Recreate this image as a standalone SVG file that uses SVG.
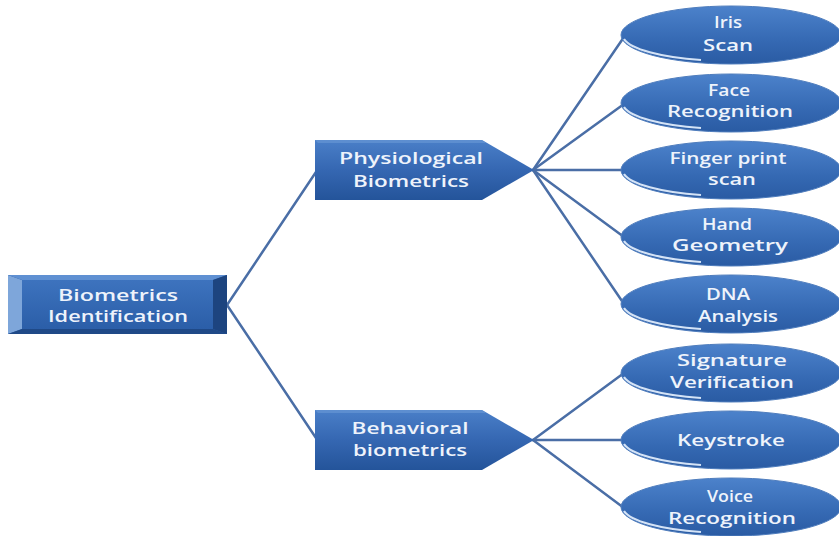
<svg xmlns="http://www.w3.org/2000/svg" xmlns:xlink="http://www.w3.org/1999/xlink" width="839" height="536" viewBox="0 0 839 536">
<style>
.t{font-family:"Open Sans","Liberation Sans",Arial,sans-serif;font-weight:600;font-size:17px;fill:#eef3fb;text-anchor:middle}
.s{font-size:16px}
.c{stroke:#4a6ea6;stroke-width:2.5;fill:none;stroke-linecap:round}
</style>
<defs>
<linearGradient id="gBox" x1="0" y1="0" x2="0" y2="1">
<stop offset="0" stop-color="#4a7fc8"/>
<stop offset="0.5" stop-color="#3567b2"/>
<stop offset="1" stop-color="#24549a"/>
</linearGradient>
<linearGradient id="gFace" x1="0" y1="0" x2="0" y2="1">
<stop offset="0" stop-color="#3d73be"/>
<stop offset="1" stop-color="#2b5ea8"/>
</linearGradient>
<linearGradient id="gEll" x1="0" y1="0" x2="0" y2="1">
<stop offset="0" stop-color="#4c82cb"/>
<stop offset="0.6" stop-color="#3569b3"/>
<stop offset="1" stop-color="#2a5ba3"/>
</linearGradient>
<g id="ell">
<ellipse cx="0" cy="0" rx="110" ry="29" fill="url(#gEll)" stroke="#4f7dbd" stroke-width="1"/>
<path d="M -107 4 A 107 26 0 0 0 -30 25" fill="none" stroke="#d4e3f6" stroke-width="2.2"/>
</g>
</defs>

<g id="connectors">
<line class="c" x1="227" y1="305" x2="316" y2="172"/>
<line class="c" x1="227" y1="305" x2="316" y2="438"/>
<line class="c" x1="533" y1="170" x2="624" y2="37"/>
<line class="c" x1="533" y1="170" x2="624" y2="104"/>
<line class="c" x1="533" y1="170" x2="624" y2="170"/>
<line class="c" x1="533" y1="170" x2="624" y2="237"/>
<line class="c" x1="533" y1="170" x2="624" y2="304"/>
<line class="c" x1="533" y1="440" x2="624" y2="373"/>
<line class="c" x1="533" y1="440" x2="624" y2="440"/>
<line class="c" x1="533" y1="440" x2="624" y2="508"/>
</g>

<g id="root">
<rect x="8" y="275" width="219" height="59" fill="#2b5ca3"/>
<polygon points="8,275 22,280 22,329 8,334" fill="#7ea6da"/>
<polygon points="8,275 227,275 213,280 22,280" fill="#5f90d2"/>
<polygon points="227,275 227,334 213,329 213,280" fill="#1d447f"/>
<polygon points="8,334 22,329 213,329 227,334" fill="#1f4987"/>
<rect x="22" y="280" width="191" height="49" fill="url(#gFace)"/>
<text class="t" x="118" y="301" textLength="120" lengthAdjust="spacingAndGlyphs">Biometrics</text>
<text class="t" x="118" y="322" textLength="140" lengthAdjust="spacingAndGlyphs">Identification</text>
</g>

<g id="physiological">
<polygon points="315,140 482,140 534,170 482,200 315,200" fill="url(#gBox)"/>
<polygon points="315,140 482,140 486,143 318,143" fill="#6b99d6" opacity="0.6"/>
<text class="t" x="411" y="164" textLength="144" lengthAdjust="spacingAndGlyphs">Physiological</text>
<text class="t" x="411" y="187" textLength="116" lengthAdjust="spacingAndGlyphs">Biometrics</text>
</g>

<g id="behavioral">
<polygon points="315,410 482,410 534,440 482,470 315,470" fill="url(#gBox)"/>
<polygon points="315,410 482,410 486,413 318,413" fill="#6b99d6" opacity="0.6"/>
<text class="t" x="410" y="434" textLength="117" lengthAdjust="spacingAndGlyphs">Behavioral</text>
<text class="t" x="410" y="456" textLength="114" lengthAdjust="spacingAndGlyphs">biometrics</text>
</g>

<g id="iris">
<use xlink:href="#ell" x="731" y="35"/>
<text class="t" x="728" y="28" textLength="28" lengthAdjust="spacingAndGlyphs">Iris</text>
<text class="t" x="728" y="51" textLength="50" lengthAdjust="spacingAndGlyphs">Scan</text>
</g>
<g id="face">
<use xlink:href="#ell" x="731" y="103"/>
<text class="t s" x="729" y="96" textLength="42" lengthAdjust="spacingAndGlyphs">Face</text>
<text class="t" x="730" y="117" textLength="126" lengthAdjust="spacingAndGlyphs">Recognition</text>
</g>
<g id="finger">
<use xlink:href="#ell" x="731" y="170"/>
<text class="t" x="728" y="164" textLength="117" lengthAdjust="spacingAndGlyphs">Finger print</text>
<text class="t s" x="732" y="185" textLength="48" lengthAdjust="spacingAndGlyphs">scan</text>
</g>
<g id="hand">
<use xlink:href="#ell" x="731" y="237"/>
<text class="t s" x="727" y="230" textLength="50" lengthAdjust="spacingAndGlyphs">Hand</text>
<text class="t" x="730" y="251" textLength="116" lengthAdjust="spacingAndGlyphs">Geometry</text>
</g>
<g id="dna">
<use xlink:href="#ell" x="731" y="304"/>
<text class="t" x="728" y="300" textLength="44" lengthAdjust="spacingAndGlyphs">DNA</text>
<text class="t" x="738" y="322" textLength="80" lengthAdjust="spacingAndGlyphs">Analysis</text>
</g>
<g id="signature">
<use xlink:href="#ell" x="731" y="373"/>
<text class="t" x="732" y="366" textLength="110" lengthAdjust="spacingAndGlyphs">Signature</text>
<text class="t" x="732" y="388" textLength="124" lengthAdjust="spacingAndGlyphs">Verification</text>
</g>
<g id="keystroke">
<use xlink:href="#ell" x="731" y="440"/>
<text class="t" x="731" y="446" textLength="108" lengthAdjust="spacingAndGlyphs">Keystroke</text>
</g>
<g id="voice">
<use xlink:href="#ell" x="731" y="507"/>
<text class="t" x="730" y="502" textLength="46" lengthAdjust="spacingAndGlyphs">Voice</text>
<text class="t" x="732" y="524" textLength="128" lengthAdjust="spacingAndGlyphs">Recognition</text>
</g>
</svg>
